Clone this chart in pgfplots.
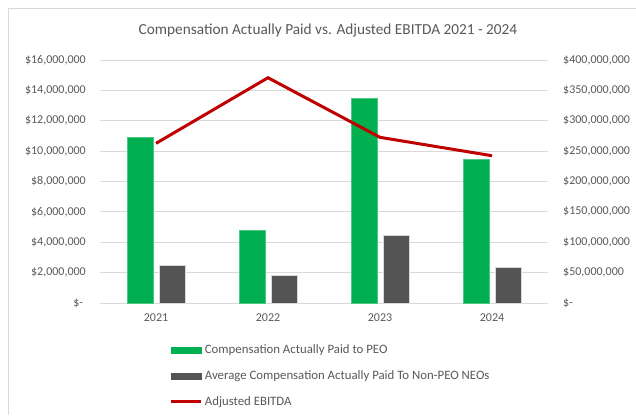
\documentclass[border=0pt]{standalone}
\usepackage{pgfplots}
\pgfplotsset{compat=1.18}
\usepackage{fontspec}
\setmainfont{Carlito}
\definecolor{cgreen}{HTML}{00B050}
\definecolor{cgray}{HTML}{545454}
\definecolor{cred}{HTML}{C00000}
\definecolor{tgray}{HTML}{595959}
\definecolor{gridc}{HTML}{D9D9D9}
\begin{document}
\begin{tikzpicture}[x=1pt,y=1pt]
\useasboundingbox (0,0) rectangle (636,415);
\fill[white] (0,0) rectangle (636,415);
\draw[gridc,line width=1pt] (8,0) -- (8,406) -- (636,406);
\node[font=\fontsize{15.3}{17}\selectfont,text=tgray] at (328,384) {Compensation Actually Paid vs. Adjusted EBITDA 2021 - 2024};
\begin{axis}[
  at={(100pt,112pt)}, anchor=south west,
  scale only axis, width=448pt, height=243pt,
  xmin=-0.5, xmax=3.5, ymin=0, ymax=16000000,
  ybar=6pt, bar width=26pt,
  xtick={0,1,2,3}, xticklabels={2021,2022,2023,2024},
  ytick={0,2000000,4000000,6000000,8000000,10000000,12000000,14000000,16000000},
  yticklabels={\$-\ \ ,{\$2,000,000},{\$4,000,000},{\$6,000,000},{\$8,000,000},{\$10,000,000},{\$12,000,000},{\$14,000,000},{\$16,000,000}},
  scaled y ticks=false,
  ymajorgrids, grid style={draw=gridc, line width=0.8pt},
  major tick length=0pt,
  axis x line*=bottom, axis y line*=left,
  xticklabel pos=bottom, yticklabel pos=left,
  x axis line style={draw=gridc, line width=0.8pt, -},
  y axis line style={draw=none},
  tick label style={font=\fontsize{12}{14}\selectfont, text=tgray},
  yticklabel style={inner sep=0pt, xshift=-14pt},
  xticklabel style={inner sep=0pt, yshift=-11pt},
  legend style={at={(0.156,-0.163)}, anchor=north west, draw=none, inner sep=0pt,
    font=\fontsize{12.8}{15}\selectfont, text=tgray, row sep=11.5pt,
    cells={anchor=west}},
  legend cell align=left,
  clip=false,
]
\addplot[fill=cgreen, draw=cgreen!70!white, line width=0.5pt,
  legend image code/.code={\fill[cgreen] (0pt,-3pt) rectangle (30pt,3pt);}]
  coordinates {(0,10900000) (1,4790000) (2,13470000) (3,9480000)};
\addlegendentry{Compensation Actually Paid to PEO}
\addplot[fill=cgray, draw=gridc, line width=0.5pt,
  legend image code/.code={\fill[cgray] (0pt,-3pt) rectangle (30pt,3pt);}]
  coordinates {(0,2460000) (1,1820000) (2,4460000) (3,2330000)};
\addlegendentry{Average Compensation Actually Paid To Non-PEO NEOs}
\addlegendimage{legend image code/.code={\draw[cred,line width=2.8pt] (0pt,0pt) -- (30pt,0pt);}}
\addlegendentry{Adjusted EBITDA}
\end{axis}
\begin{axis}[
  at={(100pt,112pt)}, anchor=south west,
  scale only axis, width=448pt, height=243pt,
  xmin=-0.5, xmax=3.5, ymin=0, ymax=400000000,
  axis x line=none, xtick=\empty,
  axis y line*=right, yticklabel pos=right,
  y axis line style={draw=none},
  major tick length=0pt,
  ytick={0,50000000,100000000,150000000,200000000,250000000,300000000,350000000,400000000},
  yticklabels={\$-,{\$50,000,000},{\$100,000,000},{\$150,000,000},{\$200,000,000},{\$250,000,000},{\$300,000,000},{\$350,000,000},{\$400,000,000}},
  scaled y ticks=false,
  tick label style={font=\fontsize{12}{14}\selectfont, text=tgray},
  yticklabel style={inner sep=0pt, xshift=15pt, anchor=west},
  clip=false,
]
\addplot[cred, line width=3pt, mark=none]
  coordinates {(0,262800000) (1,370800000) (2,272700000) (3,242400000)};
\end{axis}
\end{tikzpicture}
\end{document}
